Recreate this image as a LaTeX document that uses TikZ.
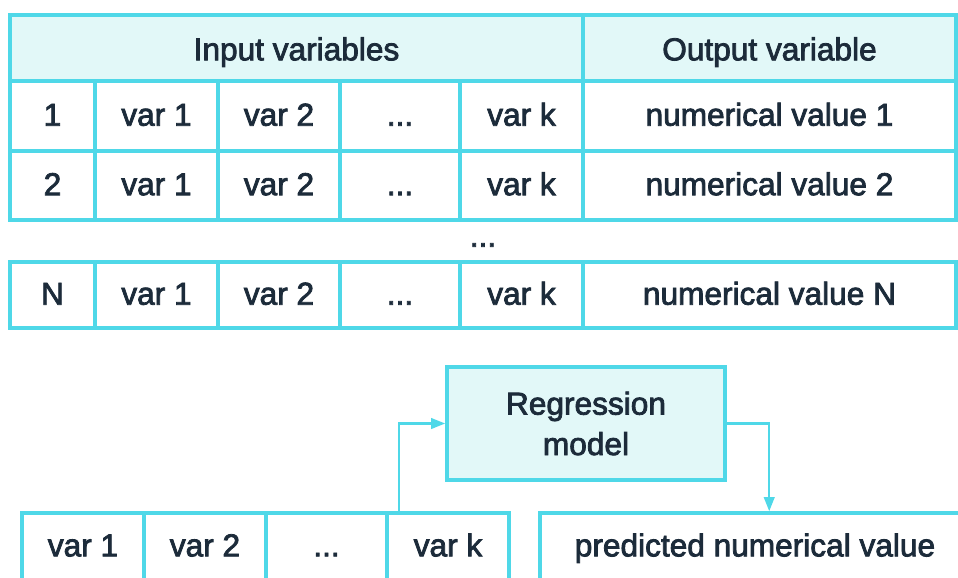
\documentclass[tikz,border=0pt]{standalone}
\usepackage{fontspec}
\setmainfont{Liberation Sans}[FakeBold=2.5]
\usetikzlibrary{calc,arrows.meta}

\definecolor{rimcyan}{HTML}{4FD8E8}
\definecolor{paleteal}{HTML}{E2F8F8}
\definecolor{inkblue}{HTML}{1C2B3A}
\def\px{0.02cm}
\newcommand\trail{...}

\tikzset{
	cell/.style={draw=rimcyan, line width=2pt, inner sep=0pt, text=inkblue,
		text height=1.1em, text depth=0pt, font=\fontsize{18}{23}\selectfont},
	head/.style={cell, fill=paleteal},
	link/.style={draw=rimcyan, line width=1.2pt, -{Triangle[length=8pt, width=6pt]}}
}

\begin{document}
\begin{tikzpicture}[x=0.02cm, y=-0.02cm]
	%%%%% START %%%%%
	\clip (0,0) rectangle (958,578);
	
	% header
	\node[head, text height=1.4em, minimum width=573*\px, minimum height=66*\px] (hin) at (296.5,48) {Input variables};
	\node[head, text height=1.4em, minimum width=373*\px, minimum height=66*\px] (hout) at (769.5,48) {Output variable};
	
	% rows 1, 2 and N
	\foreach \r/\yc/\h in {1/116/70, 2/185.5/69, N/295/66} {
		\node[cell, minimum width=85*\px, minimum height=\h*\px] (r\r-0) at (52.5,\yc) {\r};
		\foreach \c/\xc/\w/\t in {1/156.5/123/var 1, 2/279/122/var 2, 3/400/120/\trail, 4/521.5/123/var k}
			\node[cell, minimum width=\w*\px, minimum height=\h*\px] (r\r-\c) at (\xc,\yc) {\t};
		\node[cell, minimum width=373*\px, minimum height=\h*\px] (r\r-5) at (769.5,\yc) {numerical value \r};
	}
	\node[cell, draw=none] (skip) at (483,237) {\trail};
	
	% model
	\node[head, align=center, minimum width=278*\px, minimum height=113*\px, text height=, text depth=]
		(model) at (586,423.5) {Regression\\model};
	
	% new sample and prediction
	\foreach \c/\xc/\t in {1/83/var 1, 2/205/var 2, 3/326.5/\trail, 4/448/var k}
		\node[cell, text height=0.95em, minimum width=122*\px, minimum height=70*\px] (s\c) at (\xc,548) {\t};
	\node[cell, text height=0.95em, minimum width=430*\px, minimum height=70*\px] (pred) at (755,548) {predicted numerical value};
	
	\coordinate (tap) at ($(s4.north west)+(14,0)$);
	\coordinate (drop) at ($(pred.north west)+(231,0)$);
	\draw[link] (tap) |- (model.west);
	\draw[link] (model.east) -| (drop);
	
	%%%%% END %%%%%
\end{tikzpicture}
\end{document}
